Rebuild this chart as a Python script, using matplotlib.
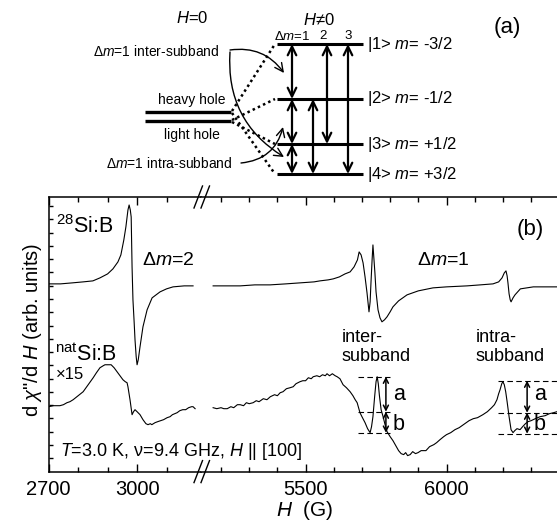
import matplotlib.pyplot as plt
from matplotlib.patches import FancyArrowPatch

plt.rcParams['font.family'] = ['Liberation Sans', 'DejaVu Sans']
plt.rcParams['mathtext.fontset'] = 'custom'
plt.rcParams['mathtext.rm'] = 'Liberation Sans'
plt.rcParams['mathtext.it'] = 'Liberation Sans:italic'

# ---- panel (b) data (H in G, signal in arb. units) ----
# 28Si:B, low-field part (dm=2 line)
si28_low_h = [2700, 2740, 2780, 2817, 2850, 2874, 2900, 2918, 2935, 2945, 2955, 2962,
              2969, 2973, 2977, 2980, 2983, 2986, 2990, 2993, 2997, 3000, 3004, 3010,
              3020, 3034, 3051, 3078, 3100, 3122, 3160, 3190]
si28_low_y = [188, 188, 189, 190, 191, 194, 198, 203, 210, 217, 232, 245,
              262, 267, 262, 255, 205, 172, 150, 132, 115, 107, 112, 125,
              145, 162, 174, 180, 183, 185, 186, 186]

# 28Si:B, high-field part (dm=1 lines)
si28_high_h = [5172, 5220, 5268, 5320, 5374, 5430, 5480, 5530, 5551, 5580, 5598, 5620,
               5640, 5658, 5672, 5684, 5690, 5697, 5704, 5711, 5718, 5725, 5729, 5732,
               5736, 5739, 5742, 5746, 5750, 5757, 5764, 5771, 5780, 5789, 5800, 5810,
               5830, 5860, 5900, 5952, 6000, 6073, 6120, 6165, 6185, 6197, 6205, 6211,
               6215, 6218, 6222, 6226, 6229, 6236, 6243, 6262, 6308, 6350, 6392]
si28_high_y = [186, 186, 186, 187, 187, 188, 189, 190, 191, 192, 193, 195,
               198, 200, 205, 212, 220, 217, 209, 195, 179, 160, 170, 189,
               212, 227, 215, 199, 180, 162, 154, 150, 152, 155, 160, 165,
               171, 177, 181, 184, 185, 186, 187, 188, 190, 194, 199, 201,
               196, 189, 178, 172, 170, 174, 177, 183, 185, 185, 185]

# natSi:B (x15), low-field part
nat_low_h = [2700, 2715, 2738, 2750, 2762, 2772, 2783, 2800, 2817, 2834, 2851, 2862,
             2874, 2885, 2891, 2900, 2912, 2922, 2932, 2942, 2952, 2960, 2966, 2969,
             2976, 2983, 2988, 2993, 3000, 3010, 3020, 3030, 3037, 3045, 3050, 3061,
             3070, 3080, 3090, 3102, 3112, 3120, 3136, 3145, 3155, 3165, 3175, 3185,
             3190, 3197]
nat_low_y = [65, 66, 66, 67, 69, 70, 72, 76, 80, 87, 94, 99,
             104, 106, 107, 107, 107, 104, 100, 96, 92, 90, 89, 85,
             72, 57, 60, 62, 60, 57, 52, 48, 47, 48, 47, 49,
             50, 51, 52, 54, 55, 57, 59, 61, 62, 62, 64, 65,
             65, 63]

# natSi:B (x15), high-field part
nat_high_h = [5172, 5185, 5200, 5210, 5222, 5235, 5245, 5258, 5268, 5280, 5290, 5300,
              5314, 5325, 5335, 5350, 5363, 5375, 5390, 5400, 5410, 5420, 5432, 5445,
              5456, 5466, 5480, 5490, 5500, 5510, 5520, 5527, 5540, 5550, 5560, 5570,
              5576, 5585, 5595, 5605, 5612, 5622, 5633, 5645, 5658, 5668, 5676, 5683,
              5690, 5693, 5700, 5711, 5720, 5729, 5734, 5739, 5745, 5750, 5754, 5758,
              5762, 5768, 5775, 5782, 5789, 5800, 5810, 5820, 5830, 5839, 5848, 5855,
              5862, 5871, 5880, 5890, 5899, 5910, 5927, 5940, 5955, 5965, 5977, 5990,
              6000, 6015, 6030, 6045, 6060, 6080, 6095, 6110, 6129, 6145, 6160, 6170,
              6179, 6185, 6190, 6196, 6200, 6205, 6210, 6215, 6222, 6229, 6236, 6242,
              6250, 6261, 6270, 6280, 6289, 6300, 6315, 6332, 6350, 6365, 6380, 6392]
nat_high_y = [64, 63, 64, 63, 63, 65, 64, 67, 67, 66, 69, 68,
              69, 71, 70, 73, 72, 75, 77, 76, 79, 80, 83, 84,
              85, 88, 90, 91, 91, 94, 93, 95, 96, 95, 97, 96,
              98, 96, 98, 96, 95, 93, 87, 84, 80, 76, 72, 69,
              62, 59, 55, 49, 43, 39, 45, 55, 75, 90, 95, 88,
              76, 62, 55, 47, 40, 35, 31, 26, 21, 18, 17, 19,
              16, 17, 20, 18, 19, 21, 21, 25, 27, 29, 32, 35,
              37, 39, 42, 44, 47, 51, 53, 54, 57, 60, 64, 67,
              72, 78, 82, 88, 90, 87, 80, 70, 55, 42, 39, 41,
              43, 42, 45, 48, 50, 51, 53, 55, 56, 58, 59, 60]

# a / b amplitude markers: (h_start, h_end, top, mid, bottom, arrow_h)
inter_marks = (5687, 5800, 95, 60, 39, 5785)
intra_marks = (6183, 6392, 91, 59, 38, 6286)

# ---- panel (a) level scheme (figure pixels) ----
level_y = [44, 99, 144, 174]
level_names = ['|1> $m$= -3/2', '|2> $m$= -1/2', '|3> $m$= +1/2', '|4> $m$= +3/2']
hole_y = [112, 121]
transitions = [(292, 0, 1), (292, 1, 2), (292, 2, 3), (313, 1, 3), (327, 0, 2), (348, 0, 3)]

W, H = 557, 523
fig = plt.figure(figsize=(W / 100, H / 100), dpi=100)

bot, top = 471.6, 197
ax1 = fig.add_axes([48.7 / W, 1 - bot / H, (201 - 48.7) / W, (bot - top) / H])
ax2 = fig.add_axes([201 / W, 1 - bot / H, (W - 201) / W, (bot - top) / H])

ax1.plot(si28_low_h, si28_low_y, color='black', lw=0.8)
ax1.plot(nat_low_h, nat_low_y, color='black', lw=0.8)
ax2.plot(si28_high_h, si28_high_y, color='black', lw=0.8)
ax2.plot(nat_high_h, nat_high_y, color='black', lw=0.8)

ax1.set_xlim(2700, 3217)
ax2.set_xlim(5129, 6392)
for ax in (ax1, ax2):
    ax.set_ylim(0, 275)
    for s in ax.spines.values():
        s.set_linewidth(1.1)
    ax.tick_params(which='both', direction='in', top=True, bottom=True,
                   labelsize=14.5, pad=6, width=1)
    ax.tick_params(which='major', length=6)
    ax.tick_params(which='minor', length=3.5)

ax1.set_xticks([2700, 3000])
ax1.set_xticks([2800, 2900, 3100], minor=True)
ax2.set_xticks([5500, 6000])
ax2.set_xticks([5200, 5300, 5400, 5600, 5700, 5800, 5900, 6100, 6200, 6300], minor=True)
ax1.spines['right'].set_visible(False)
ax2.spines['left'].set_visible(False)
ax2.spines['right'].set_visible(False)
ax1.set_yticks([i * 13.3 for i in range(1, 21)])
ax1.tick_params(axis='y', which='major', length=3, labelleft=False, direction='in')
ax2.set_yticks([])

for hs, he, ytop, ymid, ybot, harr in (inter_marks, intra_marks):
    for yy in (ytop, ymid, ybot):
        ax2.plot([hs, he], [yy, yy], color='black', lw=0.8, ls=(0, (5, 3)))
    for y0, y1 in ((ytop, ymid), (ymid, ybot)):
        ax2.annotate('', xy=(harr, y0), xytext=(harr, y1),
                     arrowprops=dict(arrowstyle='<->,head_length=0.35,head_width=0.18',
                                     color='black', lw=1.1, shrinkA=0, shrinkB=0))

# overlay in figure pixels for texts and the level scheme
ax0 = fig.add_axes([0, 0, 1, 1])
ax0.set_xlim(0, W)
ax0.set_ylim(H, 0)
ax0.axis('off')

# axis break marks
for yb in (bot, top):
    for x0 in (194, 201):
        ax0.plot([x0, x0 + 8.5], [yb + 11, yb - 11], color='black', lw=1.0)

ax0.text(33, 330, 'd $\\chi$"/d $H$ (arb. units)', rotation=90, ha='center', va='center', fontsize=14.5)
ax0.text(305, 511, '$H$  (G)', ha='center', va='center', fontsize=15)

ax0.text(56, 233, '$^{28}$Si:B', ha='left', va='baseline', fontsize=15.5)
ax0.text(55, 361, '$^{\\mathrm{nat}}$Si:B', ha='left', va='baseline', fontsize=15.5)
ax0.text(56, 379, '×15', ha='left', va='baseline', fontsize=12)
ax0.text(142, 265, 'Δ$m$=2', ha='left', va='baseline', fontsize=14)
ax0.text(417, 265, 'Δ$m$=1', ha='left', va='baseline', fontsize=14)
ax0.text(530, 229, '(b)', ha='center', va='center', fontsize=16)
ax0.text(342, 342, 'inter-', ha='left', va='baseline', fontsize=13)
ax0.text(342, 361, 'subband', ha='left', va='baseline', fontsize=13)
ax0.text(476, 342, 'intra-', ha='left', va='baseline', fontsize=13)
ax0.text(476, 361, 'subband', ha='left', va='baseline', fontsize=13)
for xa in (399, 540):
    ax0.text(xa, 395, 'a', ha='center', va='center', fontsize=15.5)
    ax0.text(xa, 425, 'b', ha='center', va='center', fontsize=15.5)
ax0.text(60, 451, '$T$=3.0 K, ν=9.4 GHz, $H$ || [100]', ha='left', va='center', fontsize=13)

# panel (a)
ax0.text(507, 28, '(a)', ha='center', va='center', fontsize=16)
ax0.text(192, 18, '$H$=0', ha='center', va='center', fontsize=12)
ax0.text(319, 20, '$H$≠0', ha='center', va='center', fontsize=12)
for yl in hole_y:
    ax0.plot([145, 231], [yl, yl], color='black', lw=2.4, solid_capstyle='butt')
ax0.text(192, 100, 'heavy hole', ha='center', va='center', fontsize=10)
ax0.text(192, 135, 'light hole', ha='center', va='center', fontsize=10)
for yl, name in zip(level_y, level_names):
    ax0.plot([277, 363], [yl, yl], color='black', lw=2.2, solid_capstyle='butt')
    ax0.text(367, yl, name, ha='left', va='center', fontsize=12)
# dotted links from zero-field levels to the split levels
for ys, ye in ((111, 44), (113, 174), (120, 99), (122, 144)):
    ax0.plot([232, 275], [ys, ye], color='black', lw=1.8, ls=(0, (1, 1.3)))
for xt, i0, i1 in transitions:
    ax0.add_patch(FancyArrowPatch((xt, level_y[i0]), (xt, level_y[i1]),
                                  arrowstyle='<->,head_length=0.45,head_width=0.22',
                                  mutation_scale=14, lw=1.6, color='black',
                                  shrinkA=0, shrinkB=0))
ax0.text(292, 36, 'Δ$m$=1', ha='center', va='center', fontsize=9.5)
ax0.text(323, 36, '2', ha='center', va='center', fontsize=9.5)
ax0.text(348.5, 36, '3', ha='center', va='center', fontsize=9.5)

ax0.text(220, 51, 'Δ$m$=1 inter-subband', ha='right', va='center', fontsize=10)
ax0.text(233, 163, 'Δ$m$=1 intra-subband', ha='right', va='center', fontsize=10)
for p0, p1, rad in (((230, 50), (284, 73), -0.3),
                    ((230, 52), (284, 157), 0.3),
                    ((241, 163), (283, 127), 0.35)):
    ax0.add_patch(FancyArrowPatch(p0, p1, connectionstyle=f'arc3,rad={rad}',
                                  arrowstyle='->,head_length=0.5,head_width=0.25',
                                  mutation_scale=12, lw=1.0, color='black',
                                  shrinkA=0, shrinkB=0))

fig.savefig('out.png', dpi=100)
